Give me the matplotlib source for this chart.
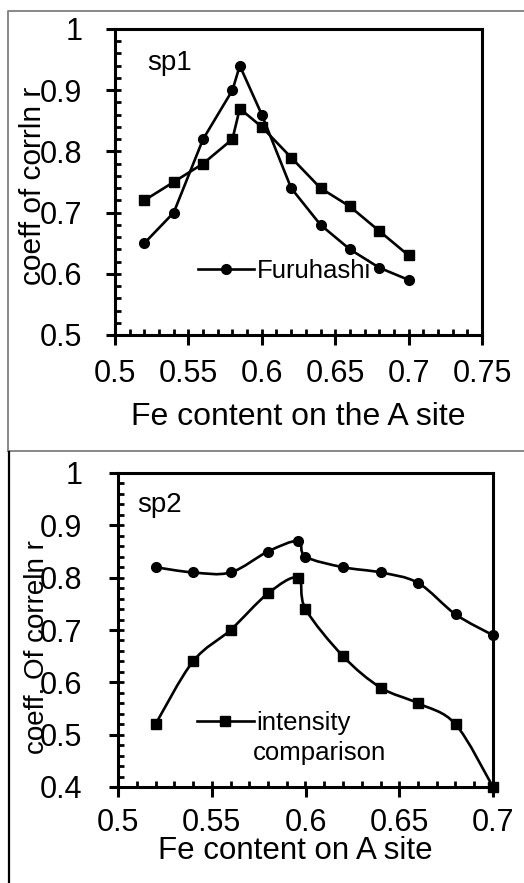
import matplotlib
matplotlib.use("Agg")
import matplotlib.pyplot as plt
import numpy as np
from matplotlib.path import Path
from matplotlib.patches import PathPatch
from matplotlib.lines import Line2D
from matplotlib.ticker import MultipleLocator, FuncFormatter

plt.rcParams['font.family'] = ['Liberation Sans', 'DejaVu Sans']

# sp1 data
x1_circ = [0.52, 0.54, 0.56, 0.58, 0.585, 0.60, 0.62, 0.64, 0.66, 0.68, 0.70]
y1_circ = [0.65, 0.70, 0.82, 0.90, 0.94, 0.86, 0.74, 0.68, 0.64, 0.61, 0.59]
x1_sq = [0.52, 0.54, 0.56, 0.58, 0.585, 0.60, 0.62, 0.64, 0.66, 0.68, 0.70]
y1_sq = [0.72, 0.75, 0.78, 0.82, 0.87, 0.84, 0.79, 0.74, 0.71, 0.67, 0.63]

# sp2 data
x2_circ = [0.52, 0.54, 0.56, 0.58, 0.596, 0.60, 0.62, 0.64, 0.66, 0.68, 0.70]
y2_circ = [0.82, 0.81, 0.81, 0.85, 0.87, 0.84, 0.82, 0.81, 0.79, 0.73, 0.69]
x2_sq = [0.52, 0.54, 0.56, 0.58, 0.596, 0.60, 0.62, 0.64, 0.66, 0.68, 0.70]
y2_sq = [0.52, 0.64, 0.70, 0.77, 0.80, 0.74, 0.65, 0.59, 0.56, 0.52, 0.40]

W, H = 524, 883
fig = plt.figure(figsize=(W / 100, H / 100), dpi=100)


def px_axes(l, t, r, b):
    return fig.add_axes([l / W, (H - b) / H, (r - l) / W, (b - t) / H])


def smooth_path(xs, ys):
    # Excel style smoothed line as cubic bezier (catmull-rom)
    pts = np.column_stack([xs, ys])
    n = len(pts)
    verts = [pts[0]]
    codes = [Path.MOVETO]
    for i in range(n - 1):
        p0 = pts[max(i - 1, 0)]
        p1 = pts[i]
        p2 = pts[i + 1]
        p3 = pts[min(i + 2, n - 1)]
        c1 = p1 + (p2 - p0) / 6
        c2 = p2 - (p3 - p1) / 6
        verts += [c1, c2, p2]
        codes += [Path.CURVE4] * 3
    return Path(verts, codes)


def style_axes(ax, xmax, ymin, xlpad, ylpad):
    ax.set_xlim(0.5, xmax)
    ax.set_ylim(ymin, 1.0)
    ax.xaxis.set_major_locator(MultipleLocator(0.05))
    ax.xaxis.set_minor_locator(MultipleLocator(0.01))
    ax.yaxis.set_major_locator(MultipleLocator(0.1))
    ax.yaxis.set_minor_locator(MultipleLocator(0.02))
    ax.xaxis.remove_overlapping_locs = False
    ax.yaxis.remove_overlapping_locs = False
    fmt = FuncFormatter(lambda v, p: '%g' % round(v, 3))
    ax.xaxis.set_major_formatter(fmt)
    ax.yaxis.set_major_formatter(fmt)
    ax.tick_params(axis='x', which='major', direction='out', length=7,
                   width=2.2, pad=xlpad, labelsize=22)
    ax.tick_params(axis='y', which='major', direction='out', length=6.5,
                   width=2.2, pad=ylpad, labelsize=22)
    ax.tick_params(which='minor', direction='in', length=4, width=2.0)
    for s in ax.spines.values():
        s.set_linewidth(2.2)


# ---- sp1 ----
ax1 = px_axes(115, 29, 482, 335)
style_axes(ax1, 0.75, 0.5, 10, 17)
ax1.plot(x1_sq, y1_sq, color='black', lw=1.9, marker='s', ms=7, clip_on=False)
l1, = ax1.plot(x1_circ, y1_circ, color='black', lw=1.9, marker='o', ms=7,
               clip_on=False, label='Furuhashi')
ax1.set_xlabel('Fe content on the A site', fontsize=23)
ax1.xaxis.label.set_va('center')
ax1.xaxis.set_label_coords(0.499, -0.268)
ax1.set_ylabel('coeff of corrln r', fontsize=21.5)
ax1.yaxis.label.set_va('center')
ax1.yaxis.set_label_coords(-0.223, 0.487)
ax1.text(0.087, 0.889, 'sp1', transform=ax1.transAxes, fontsize=20,
         va='center', ha='left')
ax1.legend(handles=[l1], loc='center left', bbox_to_anchor=(0.226, 0.209),
           frameon=False, fontsize=18.5, borderpad=0, borderaxespad=0,
           handlelength=2.2, handletextpad=0.1)

# ---- sp2 ----
ax2 = px_axes(118, 473, 493, 787)
style_axes(ax2, 0.70, 0.4, 8, 19)
ax2.add_patch(PathPatch(smooth_path(x2_circ, y2_circ), fill=False,
                        color='black', lw=1.9, clip_on=False))
ax2.add_patch(PathPatch(smooth_path(x2_sq, y2_sq), fill=False,
                        color='black', lw=1.9, clip_on=False))
ax2.plot(x2_circ, y2_circ, color='black', ls='none', marker='o', ms=7,
         clip_on=False, zorder=3)
ax2.plot(x2_sq, y2_sq, color='black', ls='none', marker='s', ms=7,
         clip_on=False, zorder=3)
h2 = Line2D([], [], color='black', lw=1.9, marker='s', ms=7)
ax2.legend(handles=[h2], labels=['intensity'], loc='center left',
           bbox_to_anchor=(0.211, 0.204), frameon=False, fontsize=18.5,
           borderpad=0, borderaxespad=0, handlelength=2.2, handletextpad=0.1)
ax2.text(0.36, 0.108, 'comparison', transform=ax2.transAxes, fontsize=18.5,
         va='center', ha='left')
ax2.set_xlabel('Fe content on A site', fontsize=22.5)
ax2.xaxis.label.set_va('center')
ax2.xaxis.set_label_coords(0.473, -0.204)
ax2.set_ylabel('coeff. Of correln r', fontsize=20)
ax2.yaxis.label.set_va('center')
ax2.yaxis.set_label_coords(-0.216, 0.447)
ax2.text(0.05, 0.898, 'sp2', transform=ax2.transAxes, fontsize=20,
         va='center', ha='left')


# outer chart frames
def fig_line(xs, ys, color, lw):
    fig.add_artist(Line2D([x / W for x in xs], [1 - y / H for y in ys],
                          color=color, lw=lw, transform=fig.transFigure))


fig_line([7.5, 7.5, 530], [451, 10.5, 10.5], '#888888', 1.4)
fig_line([7.5, 530], [451, 451], '#888888', 1.4)
fig_line([9, 9], [452, 890], 'black', 1.6)

fig.savefig('out.png', dpi=100)
